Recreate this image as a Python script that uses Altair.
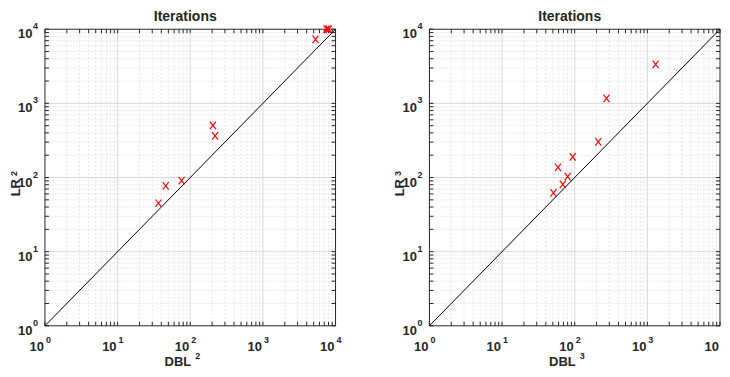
import altair as alt
import pandas as pd

# ---- data ----
left_x = [36.5, 46, 76, 205, 220, 5300, 7500, 7800, 8100]
left_y = [45, 77, 91, 505, 365, 7300, 10000, 10000, 10000]
right_x = [51, 68.5, 80, 59, 94, 211, 274, 1300]
right_y = [62, 81, 103, 137, 190, 303, 1166, 3350]

decades = [1, 10, 100, 1000, 10000]
exponents = ["0", "1", "2", "3", "4"]
minor_vals = [k * d for d in [1, 10, 100, 1000] for k in range(2, 10)]
interior_major = [10, 100, 1000]
diag_x = [1, 10000]
diag_y = [1, 10000]

titles = ["Iterations", "Iterations"]
xlabels = [("DBL", "2"), ("DBL", "3")]
ylabels = [("LR", "2"), ("LR", "3")]

W, H = 291, 297
DARK = "#262626"
FONT = "Liberation Sans"
XPATH = "M-0.8,-1L0.8,1M-0.8,1L0.8,-1"

xscale = alt.Scale(type="log", domain=[1, 10000])
yscale = alt.Scale(type="log", domain=[1, 10000])


def X(f):
    return alt.X(f, type="quantitative", scale=xscale, axis=None)


def Y(f):
    return alt.Y(f, type="quantitative", scale=yscale, axis=None)


def panel(px, py, title, xl, yl, anchor_l, anchor_r, n_xexp):
    pts = pd.DataFrame({"x": px, "y": py})
    minor = pd.DataFrame({"v": minor_vals})
    major_in = pd.DataFrame({"v": interior_major})
    major = pd.DataFrame({"v": decades, "e": exponents})
    major_xe = pd.DataFrame({"v": decades[:n_xexp], "e": exponents[:n_xexp]})
    alltick = pd.DataFrame({"v": decades + minor_vals})
    diag = pd.DataFrame({"x": diag_x, "y": diag_y})
    one = pd.DataFrame({"a": [0]})

    # invisible frame fixing the size of the panel (plot area + room for texts)
    anchor = alt.Chart(one).mark_rect(opacity=0).encode(
        x=alt.value(anchor_l), x2=alt.value(anchor_r),
        y=alt.value(-21), y2=alt.value(H + 43))

    minor_v = alt.Chart(minor).mark_rule(color="#e0e0e0", strokeDash=[2, 2], strokeWidth=0.8).encode(x=X("v"))
    minor_h = alt.Chart(minor).mark_rule(color="#e6e6e6", strokeDash=[2, 1], strokeWidth=0.8).encode(y=Y("v"))
    major_v = alt.Chart(major_in).mark_rule(color="#d8d8d8", strokeWidth=1).encode(x=X("v"))
    major_h = alt.Chart(major_in).mark_rule(color="#d8d8d8", strokeWidth=1).encode(y=Y("v"))

    tk = dict(color=DARK, strokeWidth=1)
    t_top = alt.Chart(alltick).mark_rule(**tk).encode(x=X("v"), y=alt.value(0), y2=alt.value(4))
    t_bot = alt.Chart(alltick).mark_rule(**tk).encode(x=X("v"), y=alt.value(H - 4), y2=alt.value(H))
    t_left = alt.Chart(alltick).mark_rule(**tk).encode(y=Y("v"), x=alt.value(0), x2=alt.value(4))
    t_right = alt.Chart(alltick).mark_rule(**tk).encode(y=Y("v"), x=alt.value(W - 4), x2=alt.value(W))

    box = alt.Chart(one).mark_rect(fill="transparent", stroke=DARK, strokeWidth=1).encode(
        x=alt.value(0), x2=alt.value(W), y=alt.value(0), y2=alt.value(H))

    line = alt.Chart(diag).mark_line(color="black", strokeWidth=1).encode(x=X("x"), y=Y("y"))

    points = alt.Chart(pts).mark_point(shape=XPATH, size=56, color="#ff0000", filled=False,
                                       strokeWidth=1.15, opacity=1).encode(x=X("x"), y=Y("y"))

    txt = dict(font=FONT, fontWeight="bold", color=DARK, baseline="alphabetic")
    xb = alt.Chart(major).mark_text(text="10", align="right", dx=-1, fontSize=13, **txt).encode(
        x=X("v"), y=alt.value(H + 25))
    xe = alt.Chart(major_xe).mark_text(align="left", dx=1, fontSize=9, **txt).encode(
        x=X("v"), y=alt.value(H + 17), text="e:N")
    yb = alt.Chart(major).mark_text(text="10", align="right", dy=9, fontSize=13, **txt).encode(
        x=alt.value(-12.5), y=Y("v"))
    ye = alt.Chart(major).mark_text(align="right", dy=0, fontSize=9, **txt).encode(
        x=alt.value(-7), y=Y("v"), text="e:N")

    ttl = alt.Chart(one).mark_text(text=title, align="center", fontSize=14, **txt).encode(
        x=alt.value(W / 2 - 5), y=alt.value(-8))
    xtb = alt.Chart(one).mark_text(text=xl[0], align="right", fontSize=13, **txt).encode(
        x=alt.value(W / 2 + 1), y=alt.value(H + 40))
    xte = alt.Chart(one).mark_text(text=xl[1], align="left", fontSize=9, **txt).encode(
        x=alt.value(W / 2 + 5), y=alt.value(H + 33))
    ytb = alt.Chart(one).mark_text(text=yl[0], align="right", angle=270, fontSize=13, **txt).encode(
        x=alt.value(-25), y=alt.value(150))
    yte = alt.Chart(one).mark_text(text=yl[1], align="left", angle=270, fontSize=9, **txt).encode(
        x=alt.value(-28), y=alt.value(147))

    return alt.layer(anchor, minor_v, minor_h, major_v, major_h, t_top, t_bot, t_left, t_right,
                     box, line, points, xb, xe, yb, ye, ttl, xtb, xte, ytb, yte).properties(
        width=W, height=H)


left = panel(left_x, left_y, titles[0], xlabels[0], ylabels[0], -37, W, 5)
right = panel(right_x, right_y, titles[1], xlabels[1], ylabels[1], 0, W + 1, 4)

chart = alt.hconcat(left, right, spacing=94, bounds="flush").properties(
    padding=0, background="white"
).configure_view(stroke=None)

chart.save("out.html", embed_options={"renderer": "svg", "actions": False})
